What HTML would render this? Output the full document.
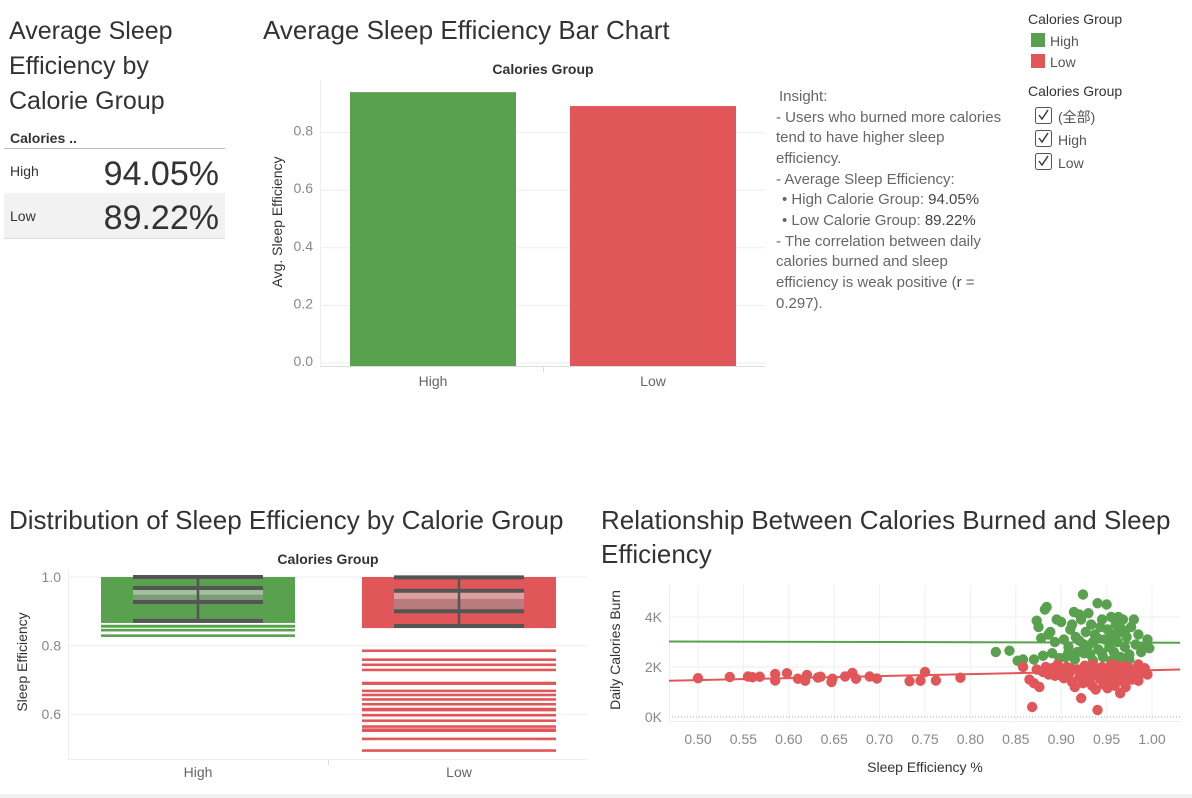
<!DOCTYPE html>
<html><head><meta charset="utf-8"><style>
body{margin:0;background:#fff;font-family:"Liberation Sans","Noto Sans CJK SC",sans-serif;}
svg{display:block}
text{font-family:"Liberation Sans","Noto Sans CJK SC",sans-serif;}
</style></head><body>
<svg id="dash" width="1192" height="798" viewBox="0 0 1192 798">
<rect x="0" y="794" width="1192" height="4" fill="#f0f0f0"/>
<g fill="#333">
<text x="9" y="39" font-size="25">Average Sleep</text>
<text x="9" y="74" font-size="25">Efficiency by</text>
<text x="9" y="109" font-size="25">Calorie Group</text>
<text x="10" y="143" font-size="14" font-weight="bold">Calories ..</text>
<rect x="4" y="148" width="221" height="1" fill="#bbb"/>
<rect x="4" y="193" width="221" height="45" fill="#f2f2f2"/>
<rect x="4" y="238" width="221" height="1" fill="#ddd"/>
<text x="10" y="176" font-size="14">High</text>
<text x="219" y="185" font-size="34" text-anchor="end">94.05%</text>
<text x="10" y="221" font-size="14">Low</text>
<text x="219" y="229" font-size="34" text-anchor="end">89.22%</text>
</g>
<text x="263" y="39" font-size="26" fill="#333">Average Sleep Efficiency Bar Chart</text>
<g id="bar"></g>
<g font-size="15" fill="#666">
<text x="779" y="101">Insight:</text>
<text x="776" y="122">- Users who burned more calories</text>
<text x="776" y="142">tend to have higher sleep</text>
<text x="776" y="163">efficiency.</text>
<text x="776" y="184">- Average Sleep Efficiency:</text>
<text x="782" y="204">• High Calorie Group: <tspan fill="#444">94.05%</tspan></text>
<text x="782" y="225">• Low Calorie Group: <tspan fill="#444">89.22%</tspan></text>
<text x="776" y="246">- The correlation between daily</text>
<text x="776" y="266">calories burned and sleep</text>
<text x="776" y="287">efficiency is weak positive (<tspan fill="#444">r</tspan> =</text>
<text x="776" y="308">0.297).</text>
</g>
<g>
<text x="1028" y="24" font-size="14" fill="#333">Calories Group</text>
<rect x="1031" y="33" width="14" height="14" fill="#59a14f"/>
<text x="1050" y="46" font-size="14" fill="#555">High</text>
<rect x="1031" y="54" width="14" height="14" fill="#e15759"/>
<text x="1050" y="67" font-size="14" fill="#555">Low</text>
</g>
<g>
<text x="1028" y="96" font-size="14" fill="#333">Calories Group</text>
<g><rect x="1035.5" y="107.5" width="16" height="16" fill="#fff" stroke="#555" rx="2"/><path d="M1039 115 l3 4 l6 -9" stroke="#333" fill="none" stroke-width="1.4"/><text x="1058" y="122" font-size="14" fill="#555">(全部)</text></g>
<g><rect x="1035.5" y="130.5" width="16" height="16" fill="#fff" stroke="#555" rx="2"/><path d="M1039 138 l3 4 l6 -9" stroke="#333" fill="none" stroke-width="1.4"/><text x="1058" y="145" font-size="14" fill="#555">High</text></g>
<g><rect x="1035.5" y="153.5" width="16" height="16" fill="#fff" stroke="#555" rx="2"/><path d="M1039 161 l3 4 l6 -9" stroke="#333" fill="none" stroke-width="1.4"/><text x="1058" y="168" font-size="14" fill="#555">Low</text></g>
</g>
<text x="9" y="529" font-size="26" fill="#333">Distribution of Sleep Efficiency by Calorie Group</text>
<text x="601" y="529" font-size="26" fill="#333">Relationship Between Calories Burned and Sleep</text>
<text x="601" y="563" font-size="26" fill="#333">Efficiency</text>
<g id="box"></g>
<g id="scat"></g>
</svg>
<script>
const barCategories=["High","Low"];
const barValues=[0.9405,0.8922];
const barTicks=[0,0.2,0.4,0.6,0.8];
const boxCategories=["High","Low"];
const boxBandTop=[1.0,1.0];
const boxBandBottom=[0.866,0.851];
const boxWhiskerHigh=[1.0,0.999];
const boxQ3=[0.968,0.96];
const boxMedian=[0.948,0.936];
const boxQ1=[0.927,0.90];
const boxWhiskerLow=[0.872,0.857];
const highOutliers=[0.857,0.856,0.845,0.829];
const lowOutliers=[0.785,0.759,0.744,0.729,0.691,0.689,0.668,0.656,0.643,0.629,0.615,0.612,0.597,0.581,0.564,0.555,0.552,0.528,0.494];
const boxTicks=[0.6,0.8,1.0];
const scatTicksX=[0.5,0.55,0.6,0.65,0.7,0.75,0.8,0.85,0.9,0.95,1.0];
const scatTicksY=[0,2000,4000];
const greenX=[0.828,0.843,0.852,0.858,0.87,0.873,0.875,0.878,0.88,0.882,0.884,0.886,0.888,0.89,0.893,0.895,0.9,0.903,0.905,0.908,0.91,0.912,0.914,0.916,0.918,0.92,0.922,0.924,0.925,0.927,0.93,0.932,0.933,0.935,0.937,0.94,0.941,0.943,0.945,0.946,0.948,0.95,0.951,0.953,0.955,0.956,0.958,0.96,0.962,0.963,0.965,0.967,0.968,0.97,0.972,0.975,0.977,0.98,0.982,0.985,0.988,0.992,0.995,0.997,0.915,0.935,0.955,0.975,0.925,0.945,0.96,0.94,0.952,0.93,0.962,0.97,0.92,0.898,0.908];
const greenY=[2600,2650,2250,2300,2300,3850,3600,3150,2450,4300,4400,3300,3400,2550,3000,3900,3800,3100,2400,2800,3500,3700,4200,3200,2600,4100,3900,4900,2900,3400,4150,2500,3700,3000,3300,4550,2700,3600,3900,2400,3100,4500,3500,2800,4000,3300,2600,3700,3000,4000,2400,3500,3900,2800,3200,2500,3600,3900,2900,3300,2600,2800,3100,2750,2300,2250,2250,2300,2550,2550,2350,3150,3050,2850,3350,3400,3050,2350,2600];
const redX=[0.5,0.535,0.555,0.56,0.568,0.585,0.585,0.598,0.61,0.618,0.62,0.632,0.635,0.647,0.648,0.662,0.67,0.674,0.689,0.697,0.733,0.745,0.75,0.762,0.789,0.858,0.865,0.868,0.87,0.873,0.876,0.88,0.883,0.886,0.89,0.893,0.896,0.9,0.903,0.906,0.909,0.912,0.915,0.918,0.92,0.922,0.924,0.926,0.928,0.93,0.932,0.934,0.936,0.938,0.94,0.941,0.943,0.945,0.947,0.949,0.951,0.953,0.955,0.957,0.959,0.961,0.963,0.965,0.967,0.969,0.971,0.973,0.975,0.978,0.98,0.983,0.985,0.988,0.992,0.995,0.91,0.935,0.955,0.97,0.925,0.945,0.96,0.95,0.9,0.985];
const redY=[1550,1600,1620,1590,1610,1720,1460,1750,1530,1450,1680,1580,1610,1400,1530,1620,1760,1530,1620,1540,1430,1450,1800,1460,1570,2000,1500,400,1350,1900,1200,1800,2000,1700,1950,1650,2100,1800,1550,2000,1750,1400,1200,1900,1600,750,1350,2050,1700,1450,1900,1250,1650,1100,280,1850,1500,2000,1300,1700,1150,1900,1450,1750,1250,2050,1600,950,1850,1400,1200,1700,1950,1500,1800,1600,2100,1750,1950,1700,1950,2100,2100,2050,1800,1600,1500,1850,1650,1450];
const trendGreen=[3020,2970];
const trendRed=[1450,1900];
const trendX=[0.468,1.031];
const GREEN="#59a14f",RED="#e15759";
const NS="http://www.w3.org/2000/svg";
function mk(p,tag,a,txt){const e=document.createElementNS(NS,tag);for(const k in a)e.setAttribute(k,a[k]);if(txt!==undefined)e.textContent=txt;p.appendChild(e);return e;}

const bar=document.getElementById('bar');
const by=v=>363-v*288;
const bCx=[433,653];
barTicks.forEach(t=>{const g=mk(bar,'g',{});


mk(g,'line',{x1:320,x2:765,y1:by(t),y2:by(t),stroke:'#eee'});
mk(g,'text',{x:313,y:by(t)+3,'font-size':14,fill:'#888','text-anchor':'end'},t.toFixed(1));});
mk(bar,'line',{x1:320,x2:765,y1:366.5,y2:366.5,stroke:'#ddd'});
mk(bar,'line',{x1:320.5,x2:320.5,y1:80,y2:366,stroke:'#eee'});
barCategories.forEach((c,i)=>{
const r=mk(bar,'rect',{x:bCx[i]-83,y:by(barValues[i]),width:166,height:366-by(barValues[i]),fill:i?RED:GREEN});


const l=mk(bar,'text',{x:bCx[i],y:386,'font-size':14,fill:'#666','text-anchor':'middle'},c);

});
mk(bar,'line',{x1:543.5,x2:543.5,y1:366,y2:372,stroke:'#ddd'});
const bh=mk(bar,'text',{x:543,y:74,'font-size':14,'font-weight':'bold',fill:'#333','text-anchor':'middle'},'Calories Group');


const bt=mk(bar,'text',{x:0,y:0,'font-size':14,fill:'#333','text-anchor':'middle',transform:'translate(282,222) rotate(-90)'},'Avg. Sleep Efficiency');



const box=document.getElementById('box');
const yy=v=>577+(1-v)*343;
const bxC=[198,459];
boxTicks.forEach(t=>{const g=mk(box,'g',{});


mk(g,'line',{x1:68,x2:587,y1:yy(t),y2:yy(t),stroke:'#eee'});
mk(g,'text',{x:61,y:yy(t)+5,'font-size':14,fill:'#888','text-anchor':'end'},t.toFixed(1));});
mk(box,'line',{x1:68,x2:587,y1:759.5,y2:759.5,stroke:'#eee'});
mk(box,'line',{x1:68.5,x2:68.5,y1:570,y2:760,stroke:'#eee'});
mk(box,'line',{x1:328.5,x2:328.5,y1:760,y2:765,stroke:'#ddd'});
boxCategories.forEach((c,i)=>{
const col=i?RED:GREEN,cx=bxC[i];
const band=mk(box,'rect',{x:cx-97,y:yy(boxBandTop[i]),width:194,height:yy(boxBandBottom[i])-yy(boxBandTop[i]),fill:col});


(i?lowOutliers:highOutliers).forEach(v=>{const l=mk(box,'rect',{x:cx-97,y:yy(v)-1.3,width:194,height:2.6,fill:col});

});
const g=mk(box,'g',{});


mk(g,'rect',{x:cx-65,y:yy(boxQ3[i]),width:130,height:yy(boxMedian[i])-yy(boxQ3[i]),fill:'#ddd','fill-opacity':0.55});
mk(g,'rect',{x:cx-65,y:yy(boxMedian[i]),width:130,height:yy(boxQ1[i])-yy(boxMedian[i]),fill:'#999','fill-opacity':0.55});
mk(g,'line',{x1:cx,x2:cx,y1:yy(boxWhiskerHigh[i]),y2:yy(boxWhiskerLow[i]),stroke:'#555','stroke-width':2.5});
[boxWhiskerHigh[i],boxQ3[i],boxQ1[i],boxWhiskerLow[i]].forEach(v=>mk(g,'line',{x1:cx-65,x2:cx+65,y1:yy(v),y2:yy(v),stroke:'#555','stroke-width':4}));
const l=mk(box,'text',{x:cx,y:777,'font-size':14,fill:'#666','text-anchor':'middle'},c);

});
const xh=mk(box,'text',{x:328,y:564,'font-size':14,'font-weight':'bold',fill:'#333','text-anchor':'middle'},'Calories Group');


const xt=mk(box,'text',{x:0,y:0,'font-size':14,fill:'#333','text-anchor':'middle',transform:'translate(27,662) rotate(-90)'},'Sleep Efficiency');



const sc=document.getElementById('scat');
const sx=v=>698+(v-0.5)*908;
const sy=v=>717-v*0.025;
scatTicksX.forEach(t=>{const g=mk(sc,'g',{});


mk(g,'line',{x1:sx(t),x2:sx(t),y1:585,y2:721,stroke:'#f0f0f0'});
mk(g,'text',{x:sx(t),y:744,'font-size':14,fill:'#888','text-anchor':'middle'},t.toFixed(2));});
scatTicksY.forEach(t=>{const g=mk(sc,'g',{});


if(t>0)mk(g,'line',{x1:669,x2:1180,y1:sy(t),y2:sy(t),stroke:'#eee'});
mk(g,'text',{x:662,y:sy(t)+5,'font-size':14,fill:'#888','text-anchor':'end'},(t/1000)+'K');});
mk(sc,'line',{x1:669,x2:1180,y1:sy(0),y2:sy(0),stroke:'#aaa','stroke-dasharray':'1,2'});
mk(sc,'line',{x1:669,x2:1180,y1:721.5,y2:721.5,stroke:'#eee'});
mk(sc,'line',{x1:669.5,x2:669.5,y1:585,y2:721,stroke:'#eee'});
greenX.forEach((v,i)=>{const c=mk(sc,'circle',{cx:sx(v),cy:sy(greenY[i]),r:5.2,fill:GREEN});

});
redX.forEach((v,i)=>{const c=mk(sc,'circle',{cx:sx(v),cy:sy(redY[i]),r:5.2,fill:RED});

});
const tg=mk(sc,'line',{x1:sx(trendX[0]),x2:sx(trendX[1]),y1:sy(trendGreen[0]),y2:sy(trendGreen[1]),stroke:GREEN,'stroke-width':2});


const tr=mk(sc,'line',{x1:sx(trendX[0]),x2:sx(trendX[1]),y1:sy(trendRed[0]),y2:sy(trendRed[1]),stroke:RED,'stroke-width':2});


const sxt=mk(sc,'text',{x:925,y:772,'font-size':14,fill:'#333','text-anchor':'middle'},'Sleep Efficiency %');


const syt=mk(sc,'text',{x:0,y:0,'font-size':14,fill:'#333','text-anchor':'middle',transform:'translate(620,650) rotate(-90)'},'Daily Calories Burn');


</script>
</body></html>
